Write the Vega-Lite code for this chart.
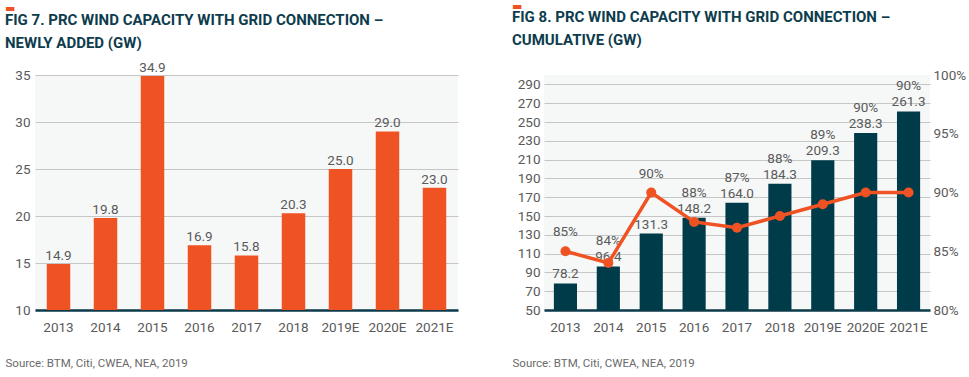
{
  "$schema": "https://vega.github.io/schema/vega-lite/v6.json",
  "padding": {"left": 5, "top": 0, "right": 5, "bottom": 0},
  "background": "white",
  "spacing": 54,
  "datasets": {
    "d": [
      {"year": "2013", "new": 14.9, "cum": 78.2, "pct": 0.85},
      {"year": "2014", "new": 19.8, "cum": 96.4, "pct": 0.84},
      {"year": "2015", "new": 34.9, "cum": 131.3, "pct": 0.90},
      {"year": "2016", "new": 16.9, "cum": 148.2, "pct": 0.875},
      {"year": "2017", "new": 15.8, "cum": 164.0, "pct": 0.87},
      {"year": "2018", "new": 20.3, "cum": 184.3, "pct": 0.88},
      {"year": "2019E", "new": 25.0, "cum": 209.3, "pct": 0.89},
      {"year": "2020E", "new": 29.0, "cum": 238.3, "pct": 0.90},
      {"year": "2021E", "new": 23.0, "cum": 261.3, "pct": 0.90}
    ]
  },
  "config": {
    "view": {"fill": "#F6F8F8", "stroke": null},
    "font": "Roboto",
    "axis": {
      "labelColor": "#5A5A5A",
      "labelFont": "Roboto",
      "labelFontSize": 13.5,
      "labelOverlap": false,
      "ticks": false,
      "domain": false,
      "gridColor": "#C6C6C6",
      "gridWidth": 1
    },
    "axisX": {
      "domain": true,
      "domainColor": "#0B3A4A",
      "domainWidth": 2.5,
      "labelAngle": 0,
      "labelPadding": 10,
      "titleFont": "Roboto",
      "titleFontSize": 11.5,
      "titleFontWeight": "normal",
      "titleColor": "#6A6A6A",
      "titleAnchor": "start",
      "titleAlign": "left",
      "titleBaseline": "middle",
      "titleY": 53,
      "grid": false
    },
    "title": {
      "anchor": "start",
      "frame": "bounds",
      "color": "#F05323",
      "fontSize": 11,
      "font": "DejaVu Sans",
      "fontWeight": "normal",
      "subtitleFont": "Roboto",
      "subtitleFontWeight": "bold",
      "subtitleFontSize": 15,
      "subtitleColor": "#0D3C4D",
      "subtitleLineHeight": 23,
      "subtitlePadding": -1.5
    }
  },
  "hconcat": [
    {
      "width": 423,
      "height": 235,
      "data": {"name": "d"},
      "title": {
        "text": "▬",
        "subtitle": ["FIG 7. PRC WIND CAPACITY WITH GRID CONNECTION –", "NEWLY ADDED (GW)"],
        "offset": 10
      },
      "encoding": {
        "x": {
          "field": "year", "type": "ordinal", "sort": null,
          "scale": {"paddingInner": 0.5, "paddingOuter": 0.25},
          "axis": {"title": "Source: BTM, Citi, CWEA, NEA, 2019", "titleX": -30}
        }
      },
      "layer": [
        {
          "mark": {"type": "bar", "color": "#F05323"},
          "encoding": {
            "y": {
              "field": "new", "type": "quantitative",
              "scale": {"domain": [10, 35], "zero": false, "nice": false},
              "axis": {"values": [10, 15, 20, 25, 30, 35], "tickCount": 6, "title": null, "grid": true, "labelPadding": 5}
            },
            "y2": {"datum": 10}
          }
        },
        {
          "mark": {"type": "text", "baseline": "alphabetic", "dy": -4, "color": "#5A5A5A", "fontSize": 13.5, "font": "Roboto"},
          "encoding": {
            "y": {"field": "new", "type": "quantitative"},
            "text": {"field": "new", "type": "quantitative", "format": ".1f"}
          }
        }
      ]
    },
    {
      "width": 386,
      "height": 235,
      "data": {"name": "d"},
      "title": {
        "text": "▬",
        "subtitle": ["FIG 8. PRC WIND CAPACITY WITH GRID CONNECTION –", "CUMULATIVE (GW)"],
        "offset": 20
      },
      "encoding": {
        "x": {
          "field": "year", "type": "ordinal", "sort": null,
          "scale": {"paddingInner": 0.46, "paddingOuter": 0.23},
          "axis": {"title": "Source: BTM, Citi, CWEA, NEA, 2019", "titleX": -32}
        }
      },
      "layer": [
        {
          "layer": [
            {
              "mark": {"type": "bar", "color": "#003B4A"},
              "encoding": {
                "y": {
                  "field": "cum", "type": "quantitative",
                  "scale": {"domain": [50, 300], "zero": false, "nice": false},
                  "axis": {"values": [50, 70, 90, 110, 130, 150, 170, 190, 210, 230, 250, 270, 290], "tickCount": 13, "title": null, "grid": true, "orient": "left", "labelPadding": 4}
                },
                "y2": {"datum": 50}
              }
            },
            {
              "mark": {"type": "text", "baseline": "alphabetic", "dy": -5, "color": "#5A5A5A", "fontSize": 13.5, "font": "Roboto"},
              "encoding": {
                "y": {"field": "cum", "type": "quantitative"},
                "text": {"field": "cum", "type": "quantitative", "format": ".1f"}
              }
            },
            {
              "transform": [{"filter": "datum.year != '2013' && datum.year != '2015'"}],
              "mark": {"type": "text", "baseline": "alphabetic", "dy": -21, "color": "#5A5A5A", "fontSize": 13.5, "font": "Roboto"},
              "encoding": {
                "y": {"field": "cum", "type": "quantitative"},
                "text": {"field": "pct", "type": "quantitative", "format": ".0%"}
              }
            }
          ]
        },
        {
          "layer": [
            {
              "mark": {"type": "line", "color": "#F05323", "strokeWidth": 3.5},
              "encoding": {
                "y": {
                  "field": "pct", "type": "quantitative",
                  "scale": {"domain": [0.8, 1.0], "zero": false, "nice": false},
                  "axis": {"values": [0.8, 0.85, 0.9, 0.95, 1.0], "tickCount": 5, "format": ".0%", "title": null, "grid": false, "orient": "right", "labelPadding": 3}
                }
              }
            },
            {
              "mark": {"type": "point", "filled": true, "opacity": 1, "color": "#F05323", "size": 100},
              "encoding": {
                "y": {"field": "pct", "type": "quantitative"}
              }
            },
            {
              "transform": [{"filter": "datum.year == '2013' || datum.year == '2015'"}],
              "mark": {"type": "text", "baseline": "alphabetic", "dy": -15, "color": "#5A5A5A", "fontSize": 13.5, "font": "Roboto"},
              "encoding": {
                "y": {"field": "pct", "type": "quantitative"},
                "text": {"field": "pct", "type": "quantitative", "format": ".0%"}
              }
            }
          ]
        }
      ],
      "resolve": {"scale": {"y": "independent"}, "axis": {"y": "independent"}}
    }
  ]
}
